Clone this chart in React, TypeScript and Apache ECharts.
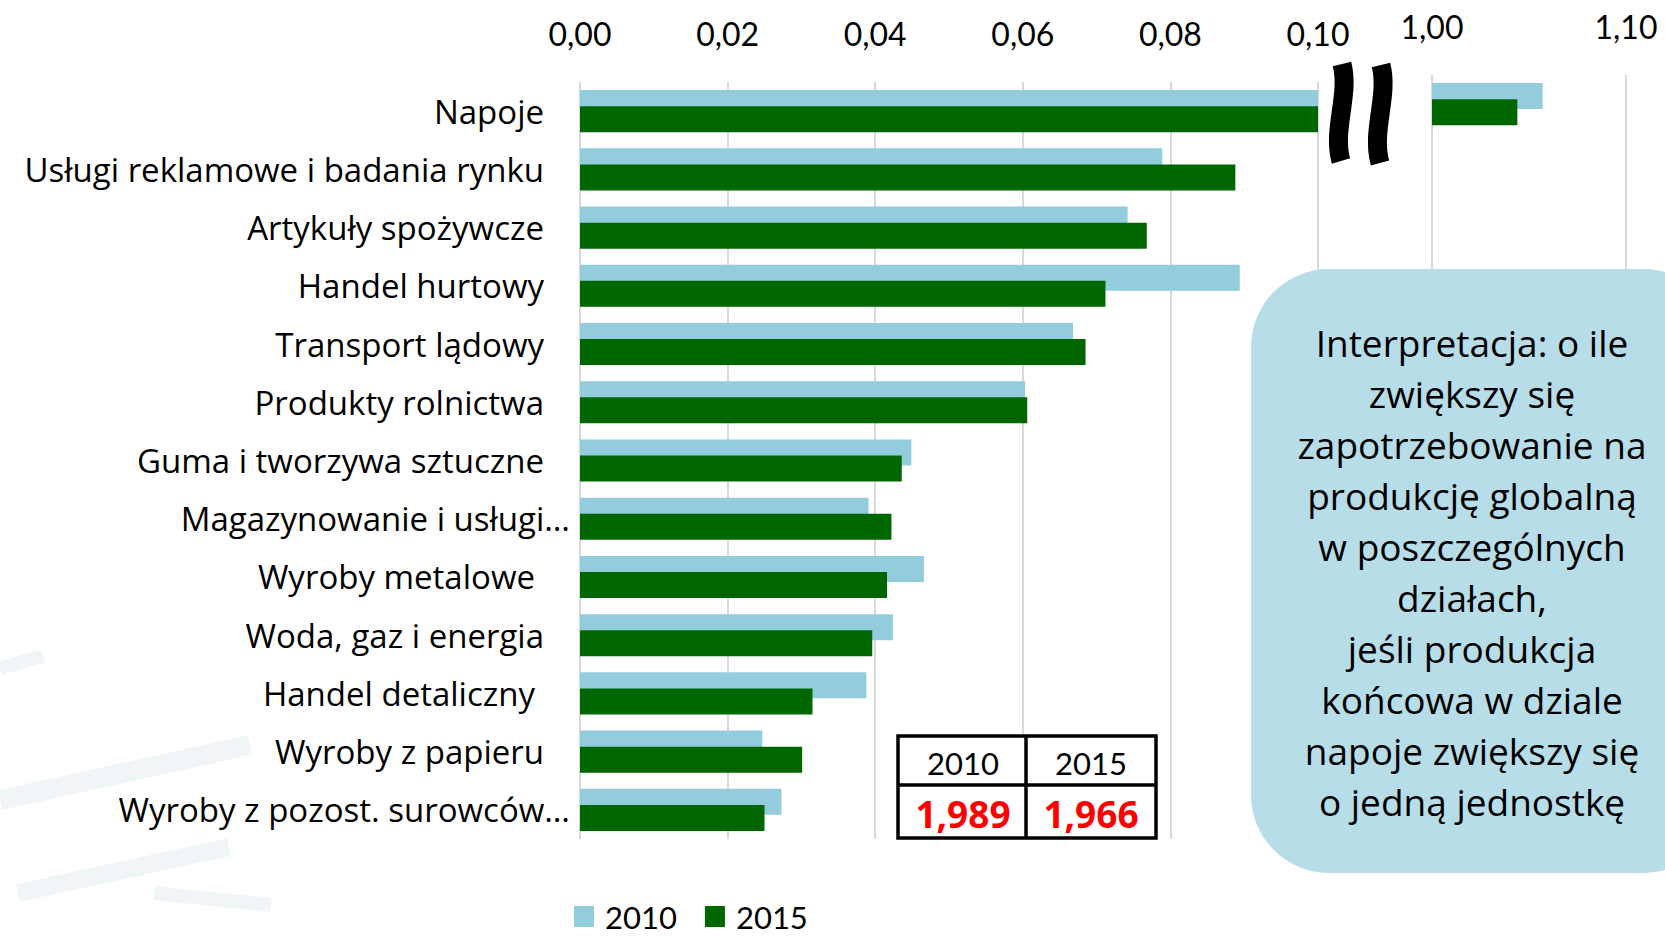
import React, { useEffect, useRef } from "react";
import * as echarts from "echarts";

const categories = [
  "Napoje",
  "Usługi reklamowe i badania rynku",
  "Artykuły spożywcze",
  "Handel hurtowy",
  "Transport lądowy",
  "Produkty rolnictwa",
  "Guma i tworzywa sztuczne",
  "Magazynowanie i usługi…",
  "Wyroby metalowe ",
  "Woda, gaz i energia",
  "Handel detaliczny ",
  "Wyroby z papieru",
  "Wyroby z pozost. surowców…",
];

const values2010 = [1.057, 0.0789, 0.0742, 0.0894, 0.0668, 0.0603, 0.0449, 0.0391, 0.0466, 0.0424, 0.0388, 0.0247, 0.0273];
const values2015 = [1.044, 0.0888, 0.0768, 0.0712, 0.0685, 0.0606, 0.0436, 0.0422, 0.0416, 0.0396, 0.0315, 0.0301, 0.025];

const seriesNames = ["2010", "2015"];
const tableYears = ["2010", "2015"];
const tableMultipliers = ["1,989", "1,966"];

const noteLines = [
  "Interpretacja: o ile",
  "zwiększy się",
  "zapotrzebowanie na",
  "produkcję globalną",
  "w poszczególnych",
  "działach,",
  "jeśli produkcja",
  "końcowa w dziale",
  "napoje zwiększy się",
  "o jedną jednostkę",
];

const LIGHT = "#93CDDD";
const DARK = "#006600";
const GRID_COLOR = "#d9d9d9";
const WATERMARK = "#e4eef1";
const fmt = (v: number) => v.toFixed(2).replace(".", ",");

export default function App() {
  const ref = useRef<HTMLDivElement>(null);
  useEffect(() => {
    if (!ref.current) return;
    const chart = echarts.init(ref.current, null, { renderer: "svg" });
    const upper2010 = values2010.map((v) => (v >= 1 ? v : "-"));
    const upper2015 = values2015.map((v) => (v >= 1 ? v : "-"));
    const tickFont = "Lato";
    const catFont = "Open Sans";

    const xAxisCommon = {
      type: "value",
      position: "top",
      axisLine: { show: false },
      axisTick: { show: false },
      splitLine: { show: true, lineStyle: { color: GRID_COLOR, width: 2 } },
      axisLabel: {
        formatter: (v: number) => fmt(v),
        fontSize: 32,
        fontFamily: tickFont,
        color: "#000",
        margin: 33,
      },
    };

    const tableX = 898, tableY = 736, tableW = 258, tableH = 102;
    const tableMidX = 1026, tableMidY = 785;

    const wm = (points: number[][], w: number) => ({
      type: "polyline",
      z: -10,
      silent: true,
      shape: { points },
      style: { stroke: WATERMARK, lineWidth: w, fill: null, opacity: 0.55 },
    });

    const graphicEls: any[] = [
      // faint watermark
      wm([[0, 668], [43, 656]], 14),
      wm([[0, 800], [250, 745]], 20),
      wm([[18, 893], [229, 847]], 18),
      wm([[154, 893], [271, 905]], 14),
      // axis break
      {
        type: "bezierCurve",
        z: 20,
        shape: { x1: 1342, y1: 64, cpx1: 1350, cpy1: 95, cpx2: 1332, cpy2: 130, x2: 1341, y2: 161 },
        style: { stroke: "#000", lineWidth: 19, fill: null },
      },
      {
        type: "bezierCurve",
        z: 20,
        shape: { x1: 1381, y1: 65, cpx1: 1389, cpy1: 96, cpx2: 1371, cpy2: 131, x2: 1380, y2: 163 },
        style: { stroke: "#000", lineWidth: 19, fill: null },
      },
      // note box
      {
        type: "rect",
        z: 20,
        shape: { x: 1251, y: 269, width: 470, height: 604, r: 78 },
        style: { fill: "#B7DDE8" },
      },
      {
        type: "text",
        z: 21,
        x: 1472,
        y: 572,
        style: {
          text: noteLines.join("\n"),
          fontSize: 37,
          fontFamily: "Open Sans",
          fill: "#000",
          align: "center",
          verticalAlign: "middle",
          lineHeight: 51,
        },
      },
      // table
      {
        type: "rect",
        z: 20,
        shape: { x: tableX, y: tableY, width: tableW, height: tableH },
        style: { fill: "#fff", stroke: "#000", lineWidth: 3.5 },
      },
      {
        type: "line",
        z: 21,
        shape: { x1: tableMidX, y1: tableY, x2: tableMidX, y2: tableY + tableH },
        style: { stroke: "#000", lineWidth: 3.5 },
      },
      {
        type: "line",
        z: 21,
        shape: { x1: tableX, y1: tableMidY, x2: tableX + tableW, y2: tableMidY },
        style: { stroke: "#000", lineWidth: 3.5 },
      },
    ];
    const colCenters = [(tableX + tableMidX) / 2 + 1, (tableMidX + tableX + tableW) / 2];
    tableYears.forEach((y, i) => {
      graphicEls.push({
        type: "text",
        z: 22,
        x: colCenters[i],
        y: 763,
        style: { text: y, fontSize: 31, fontFamily: tickFont, fill: "#000", align: "center", verticalAlign: "middle" },
      });
      graphicEls.push({
        type: "text",
        z: 22,
        x: colCenters[i],
        y: 813,
        style: {
          text: tableMultipliers[i],
          fontSize: 37,
          fontWeight: "bold",
          fontFamily: "Open Sans",
          fill: "#ff0000",
          align: "center",
          verticalAlign: "middle",
        },
      });
    });

    chart.setOption({
      animation: false,
      backgroundColor: "#fff",
      textStyle: { fontFamily: tickFont },
      legend: {
        data: seriesNames,
        left: 574,
        top: 901,
        padding: 0,
        itemWidth: 20,
        itemHeight: 21,
        itemGap: 28,
        icon: "rect",
        textStyle: { fontSize: 31, fontFamily: tickFont, color: "#000", padding: [0, 0, 0, 6], lineHeight: 31 },
      },
      grid: [
        { left: 580, top: 82, width: 738, height: 757 },
        { left: 1432, top: 75, width: 194, height: 757 },
      ],
      xAxis: [
        { ...xAxisCommon, gridIndex: 0, min: 0, max: 0.1, interval: 0.02 },
        { ...xAxisCommon, gridIndex: 1, min: 1, max: 1.1, interval: 0.1 },
      ],
      yAxis: [
        {
          type: "category",
          gridIndex: 0,
          inverse: true,
          data: categories,
          axisLine: { show: false },
          axisTick: { show: false },
          axisLabel: {
            margin: 10,
            formatter: (name: string) => {
              const trimmed = name.replace(/\s+$/, "");
              if (trimmed.endsWith("…")) return `{t|${trimmed}}`;
              return `{t|${trimmed}}{${trimmed !== name ? "pl" : "ps"}| }`;
            },
            rich: {
              t: { fontSize: 33, fontFamily: catFont, color: "#000" },
              ps: { width: 26, fontSize: 33 },
              pl: { width: 35, fontSize: 33 },
            },
          },
        },
        {
          type: "category",
          gridIndex: 1,
          inverse: true,
          data: categories,
          axisLine: { show: false },
          axisTick: { show: false },
          axisLabel: { show: false },
        },
      ],
      series: [
        { name: seriesNames[0], type: "bar", xAxisIndex: 0, yAxisIndex: 0, data: values2010, itemStyle: { color: LIGHT }, barWidth: 26, barGap: "-38%" },
        { name: seriesNames[1], type: "bar", xAxisIndex: 0, yAxisIndex: 0, data: values2015, itemStyle: { color: DARK }, barWidth: 26, barGap: "-38%" },
        { name: seriesNames[0], type: "bar", xAxisIndex: 1, yAxisIndex: 1, data: upper2010, itemStyle: { color: LIGHT }, barWidth: 26, barGap: "-38%" },
        { name: seriesNames[1], type: "bar", xAxisIndex: 1, yAxisIndex: 1, data: upper2015, itemStyle: { color: DARK }, barWidth: 26, barGap: "-38%" },
      ],
      graphic: { elements: graphicEls },
    });
    return () => chart.dispose();
  }, []);
  return (
    <div
      ref={ref}
      style={{ position: "fixed", left: 0, top: 0, width: 1665, height: 936, background: "#fff" }}
    />
  );
}
